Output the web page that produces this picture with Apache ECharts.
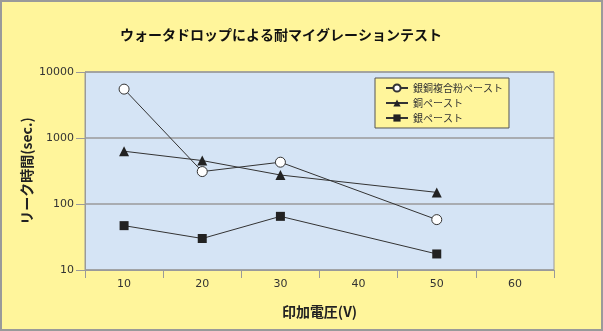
<!DOCTYPE html>
<html>
<head>
<meta charset="utf-8">
<script src="https://cdn.jsdelivr.net/npm/echarts@6/dist/echarts.min.js"></script>
<style>
html,body{margin:0;padding:0;background:#fff;}
#c{width:603px;height:331px;}
</style>
</head>
<body>
<div id="c"></div>
<script>
const title = 'ウォータドロップによる耐マイグレーションテスト';
const categories = ['10', '20', '30', '40', '50', '60'];
const seriesNames = ['銀銅複合粉ペースト', '銅ペースト', '銀ペースト'];
const agCuValues = [5500, 310, 430, null, 58, null];
const cuValues = [630, 455, 275, null, 150, null];
const agValues = [47, 30, 65, null, 17.5, null];
const xName = '印加電圧(V)';
const yName = 'リーク時間(sec.)';

const jp = '"Noto Sans CJK JP", "Noto Sans", sans-serif';
const num = '"DejaVu Sans", sans-serif';

const chart = echarts.init(document.getElementById('c'), null, {renderer: 'canvas'});
const lineStyle = {color: '#333', width: 1};
chart.setOption({
  animation: false,
  backgroundColor: '#FFF59B',
  graphic: [{
    type: 'rect', z: -10, silent: true,
    shape: {x: 1, y: 1, width: 601, height: 329},
    style: {fill: '#FFF59B', stroke: '#9a9a9a', lineWidth: 2}
  }],
  title: {
    text: title, left: 115, top: 23,
    textStyle: {fontFamily: jp, fontSize: 14, fontWeight: 'bold', color: '#111'}
  },
  legend: {
    orient: 'vertical', left: 375, top: 78,
    padding: [5, 6, 5, 10], itemGap: 5,
    itemWidth: 22, itemHeight: 9,
    backgroundColor: '#FFF59B', borderColor: '#555', borderWidth: 1,
    textStyle: {fontFamily: jp, fontSize: 10, color: '#333'},
    data: seriesNames
  },
  grid: {
    left: 85, right: 49, top: 72, bottom: 61,
    show: true, backgroundColor: '#D5E4F5', borderColor: '#9a9a9a', borderWidth: 1
  },
  xAxis: {
    type: 'category', data: categories, boundaryGap: true,
    name: xName, nameLocation: 'middle', nameGap: 35,
    nameTextStyle: {fontFamily: jp, fontSize: 14, fontWeight: 'bold', color: '#222'},
    axisLine: {lineStyle: {color: '#9a9a9a', width: 1}},
    axisTick: {show: true, length: 8, lineStyle: {color: '#9a9a9a'}},
    axisLabel: {fontFamily: num, fontSize: 11, color: '#333', margin: 9},
    splitLine: {show: false}
  },
  yAxis: {
    type: 'log', logBase: 10, min: 10, max: 10000,
    name: yName, nameLocation: 'middle', nameGap: 51, nameMoveOverlap: false,
    nameTextStyle: {fontFamily: jp, fontSize: 14, fontWeight: 'bold', color: '#222'},
    axisLine: {show: true, lineStyle: {color: '#9a9a9a', width: 1}},
    axisTick: {show: true, length: 9, lineStyle: {color: '#9a9a9a'}},
    minorTick: {show: false},
    axisLabel: {fontFamily: num, fontSize: 11, color: '#333', margin: 11,
      formatter: function (v) { return String(Math.round(v)); }},
    splitLine: {show: true, lineStyle: {color: '#9a9a9a', width: 1.5}}
  },
  series: [
    {
      name: seriesNames[0], type: 'line', data: agCuValues, connectNulls: true,
      symbol: 'circle', symbolSize: 10, showAllSymbol: true,
      lineStyle: lineStyle,
      itemStyle: {color: '#fff', borderColor: '#333', borderWidth: 1}
    },
    {
      name: seriesNames[1], type: 'line', data: cuValues, connectNulls: true,
      symbol: 'triangle', symbolSize: 10, showAllSymbol: true,
      lineStyle: lineStyle,
      itemStyle: {color: '#222', borderColor: '#222', borderWidth: 0}
    },
    {
      name: seriesNames[2], type: 'line', data: agValues, connectNulls: true,
      symbol: 'rect', symbolSize: 9, showAllSymbol: true,
      lineStyle: lineStyle,
      itemStyle: {color: '#222', borderColor: '#222', borderWidth: 0}
    }
  ]
});
</script>
</body>
</html>
